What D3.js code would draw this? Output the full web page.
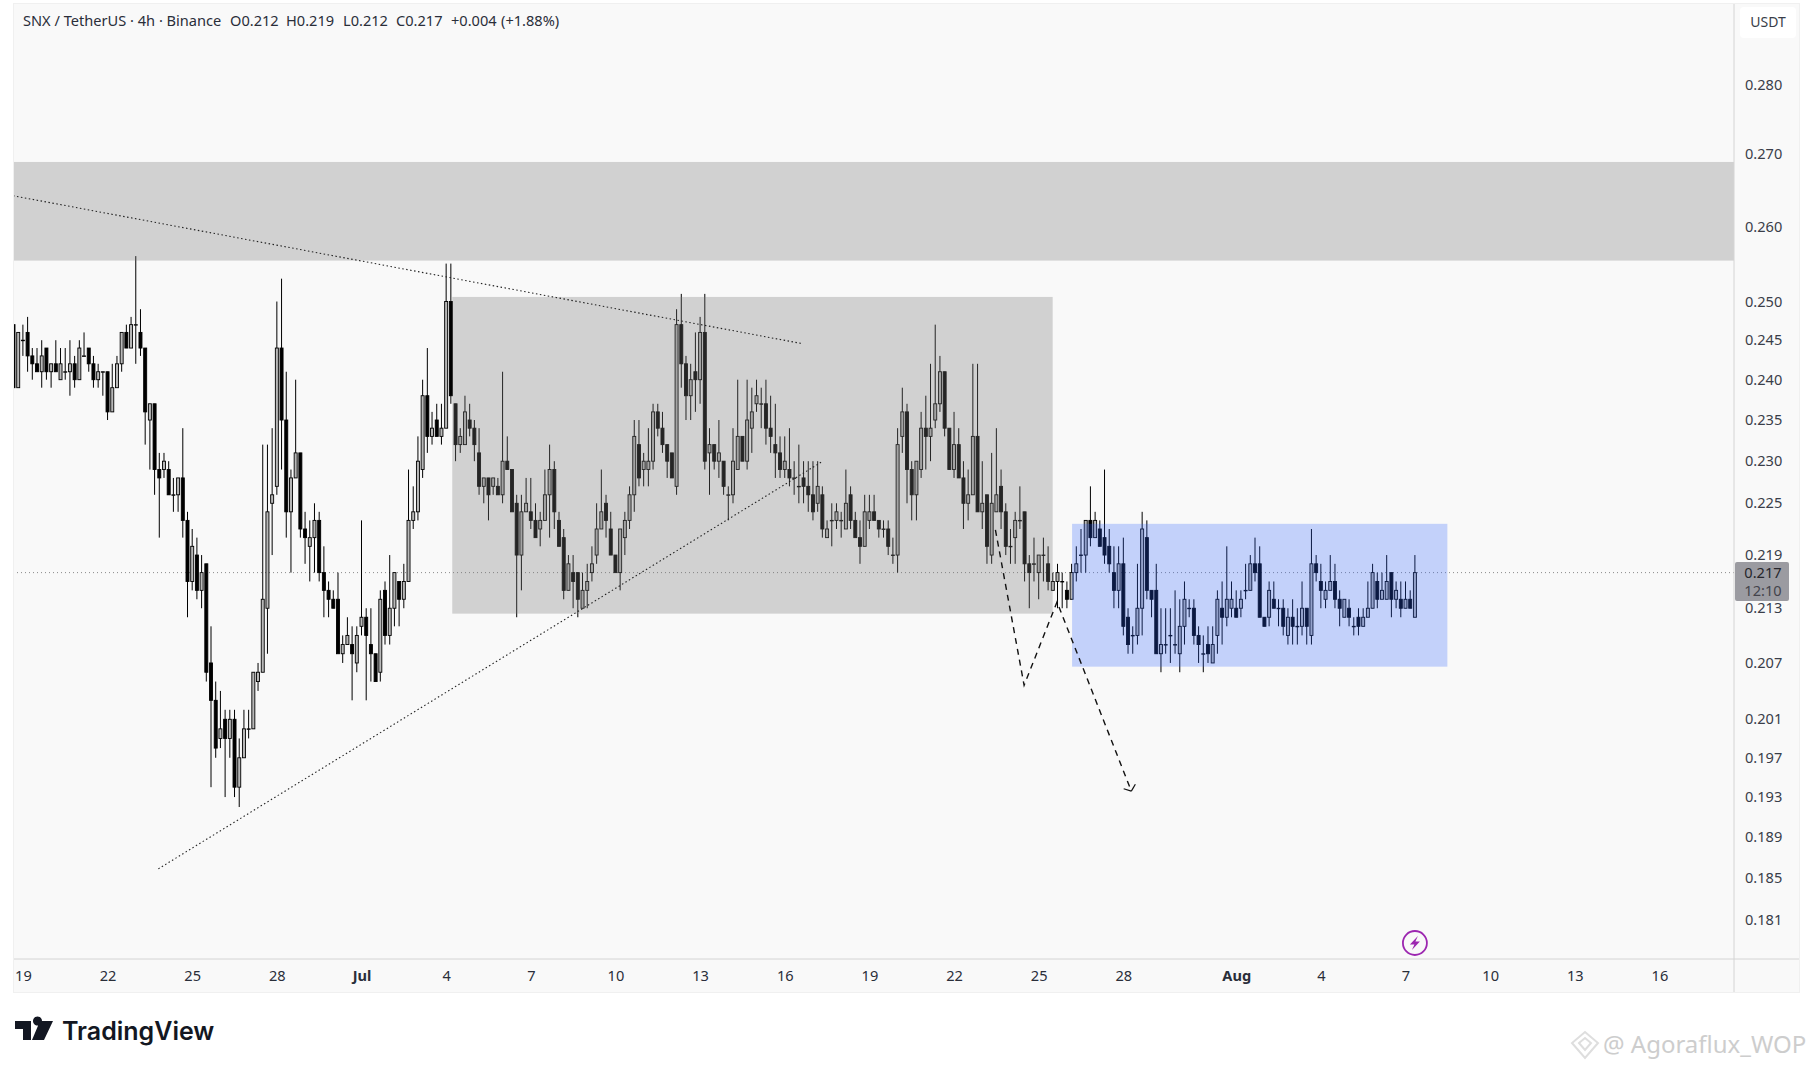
<!DOCTYPE html>
<html>
<head>
<meta charset="utf-8">
<title>SNX / TetherUS</title>
<script src="https://cdn.jsdelivr.net/npm/d3@7"></script>
<style>
html, body { margin: 0; background: #fff; }
svg { display: block; }
text { font-family: "Noto Sans", sans-serif; fill: #2a2e39; }
</style>
</head>
<body>
<div id="chart"></div>
<script>
// prices are in thousandths of USDT, one entry per 4h bar, ten bars per row
const opens = [
	247,239,245,246,243,242,241,244,241,242,
	240,241,241,242,240,243,244,242,240,241,
	241,236,239,242,246,244,247,246,244,235,
	237,229,229,229,226,226,228,223,216,219,
	215,218,207,203,199,201,199,201,194,197,
	200,200,205,206,213,225,227,244,235,224,
	228,231,222,220,221,223,217,215,214,214,
	208,209,209,207,211,212,209,208,206,215,
	210,213,216,214,216,223,224,229,238,233,
	235,233,234,250,237,232,232,235,234,231,
	227,228,227,227,226,230,229,225,219,224,
	224,223,222,223,226,229,223,221,215,217,
	217,213,215,217,219,222,225,222,219,217,
	221,223,226,232,229,229,230,236,234,232,
	231,227,247,242,238,241,240,246,231,232,
	230,230,226,226,229,233,230,234,237,237,
	237,234,232,231,229,229,228,227,228,227,
	226,225,226,221,223,223,223,222,226,223,
	221,220,223,224,223,222,222,219,219,233,
	236,229,226,229,234,233,235,237,241,234,
	229,232,228,225,226,233,224,226,219,224,
	227,224,220,221,223,224,218,218,217,219,
	218,215,216,216,215,214,217,219,219,223,
	221,222,221,220,217,215,218,212,210,210,
	213,221,215,215,208,209,210,209,208,211,
	213,213,210,208,209,207,210,213,212,213,
	213,213,215,215,218,218,212,212,214,213,
	213,210,212,211,211,213,210,218,216,214,
	215,216,214,212,213,211,212,211,212,213,
	216,214,214,217,214,214,213,214,212
];
const highs = [
	249,246,247,248,244,244,245,244,242,245,
	244,244,245,243,245,246,244,243,242,241,
	241,242,243,246,247,248,256,249,244,237,
	237,231,231,230,228,228,234,224,222,221,
	219,218,211,205,204,202,202,202,199,202,
	202,206,207,232,232,234,250,253,241,229,
	240,231,224,223,225,224,220,216,215,217,
	210,212,211,211,223,213,213,208,215,216,
	219,217,216,218,229,227,233,240,244,236,
	237,237,255,255,237,234,238,237,235,234,
	228,228,228,228,241,233,229,226,226,228,
	228,225,224,229,232,230,224,222,219,219,
	217,217,218,220,225,229,226,224,219,222,
	224,227,235,235,231,234,237,237,236,232,
	231,249,251,243,242,246,248,251,234,232,
	235,230,227,234,240,233,240,239,240,239,
	240,238,237,233,233,234,230,232,230,230,
	230,230,227,223,225,225,224,229,227,224,
	223,226,226,226,223,223,223,221,234,239,
	237,230,230,236,238,242,247,243,241,234,
	236,234,230,229,242,242,230,226,231,234,
	229,225,222,224,227,224,219,221,219,221,
	220,217,218,217,216,218,220,222,223,227,
	224,223,229,222,220,220,221,213,211,218,
	224,223,215,218,213,213,213,215,214,216,
	214,214,211,210,211,211,215,216,220,216,
	215,215,218,219,221,220,212,216,216,214,
	214,213,214,213,216,213,222,219,218,216,
	219,218,215,214,214,212,213,213,216,218,
	217,217,219,217,216,216,216,215,219
];
const lows = [
	239,239,243,241,240,241,239,240,239,241,
	240,240,238,239,240,243,241,239,239,238,
	235,236,239,241,244,244,242,243,232,229,
	226,221,228,226,224,224,221,212,215,214,
	213,205,194,197,198,193,197,193,192,197,
	199,200,204,206,208,219,226,229,221,217,
	228,221,218,216,217,216,212,212,213,208,
	207,209,203,206,210,203,205,205,205,209,
	209,211,211,213,216,222,223,228,231,232,
	233,232,234,237,230,231,232,233,230,226,
	225,223,226,226,225,229,224,212,215,224,
	222,221,220,223,221,222,220,214,215,213,
	212,213,213,216,218,222,221,219,217,215,
	219,222,224,227,227,227,229,233,231,228,
	228,226,239,235,235,236,237,229,226,229,
	228,226,223,225,229,230,229,231,236,234,
	232,231,228,228,228,227,226,225,225,224,
	223,224,221,221,220,222,221,222,222,221,
	218,220,222,223,221,221,219,218,217,231,
	225,223,223,228,229,230,234,236,233,229,
	228,228,222,223,226,224,222,218,218,224,
	222,219,218,218,222,216,213,216,214,216,
	215,215,213,213,213,214,216,217,217,220,
	221,220,218,217,213,213,210,208,208,209,
	210,214,212,208,206,208,207,208,206,209,
	212,209,207,206,207,207,208,209,211,212,
	212,212,214,215,216,212,211,211,213,211,
	210,209,209,209,210,209,209,216,213,213,
	215,213,211,212,211,210,210,211,212,213,
	213,214,214,212,213,212,213,213,212
];
const closes = [
	239,246,245,243,242,241,243,241,242,241,
	242,241,242,240,244,243,242,240,241,241,
	236,239,242,246,244,247,247,244,236,237,
	229,228,230,226,226,228,223,216,220,215,
	217,206,203,198,200,199,201,194,197,200,
	200,206,206,214,224,226,244,235,224,228,
	231,222,221,221,223,217,215,214,213,208,
	209,210,208,210,212,210,208,205,214,210,
	213,217,214,216,223,224,230,238,233,234,
	233,234,250,238,232,233,236,234,232,227,
	228,226,228,226,230,229,224,219,224,225,
	223,221,223,226,229,224,220,215,218,216,
	214,215,216,218,222,224,223,219,217,222,
	223,226,233,228,230,230,236,234,232,230,
	228,247,242,238,240,240,246,230,232,230,
	231,227,226,230,233,230,235,236,238,237,
	234,233,231,229,230,228,228,227,227,226,
	224,227,222,222,223,224,223,225,223,221,
	220,224,224,223,222,222,220,219,232,236,
	229,226,230,234,233,234,237,241,234,229,
	232,228,225,226,233,224,225,220,225,226,
	224,220,220,223,223,218,217,218,219,219,
	216,216,217,216,214,217,218,219,223,221,
	223,220,219,218,215,218,211,209,210,213,
	222,215,214,208,209,209,210,209,211,214,
	213,210,209,208,208,209,214,212,214,214,
	212,214,215,218,217,212,211,215,213,213,
	211,212,211,211,213,211,218,217,215,215,
	216,214,213,214,212,211,211,212,213,217,
	214,215,216,214,215,213,214,213,217
];

const firstBar = Date.UTC(2024, 5, 18, 16);
const BAR_MS = 4 * 3600 * 1000;

const priceTicks = [0.280,0.270,0.260,0.250,0.245,0.240,0.235,0.230,0.225,0.219,0.213,0.207,0.201,0.197,0.193,0.189,0.185,0.181];
const dateTicks = ["06-19","06-22","06-25","06-28","07-01","07-04","07-07","07-10","07-13","07-16","07-19","07-22","07-25","07-28","08-01","08-04","08-07","08-10","08-13","08-16"];
const monthNames = {"07-01": "Jul", "08-01": "Aug"};

// drawings: prices are in USDT, positions on the time axis in bars from the first one
const bandZone = { from: 0.2689, to: 0.2554 };
const rangeZone = { barFrom: 93.3, barTo: 220.97, from: 0.2506, to: 0.2124 };
const blueZone = { barFrom: 225.1, barTo: 304.9, from: 0.2226, to: 0.2066 };
const fallingLine = [[-0.1, 0.2642], [167.4, 0.2446]];
const risingLine = [[30.8, 0.1859], [171.8, 0.2299]];
const projection = [[208.8, 0.2219], [214.9, 0.2046], [221.9, 0.2137], [237.7, 0.1936]];

const headerParts = [
	["SNX / TetherUS · 4h · Binance", 23],
	["O0.212", 230], ["H0.219", 286], ["L0.212", 343], ["C0.217", 396],
	["+0.004", 451], ["(+1.88%)", 501]
];
const lastPrice = 0.217;
const countdown = "12:10";
const quoteCurrency = "USDT";

const WIDTH = 1814;
const HEIGHT = 1069;
const PANE = { left: 13, top: 3, right: 1734, bottom: 959, axisRight: 1800, axisBottom: 993 };
const BODY_WIDTH = 3;

const parseTick = d3.utcParse("%Y-%m-%d");

const x = d3.scaleUtc()
	.domain([parseTick("2024-07-01"), parseTick("2024-08-07")])
	.range([361.5, 1405.5]);

const y = d3.scaleLog()
	.domain([0.181, 0.280])
	.range([920, 84.5]);

const barX = (i) => x(new Date(firstBar + i * BAR_MS));
const lineGen = d3.line().x((d) => barX(d[0])).y((d) => y(d[1]));

const svg = d3.select("#chart").append("svg")
	.attr("width", WIDTH)
	.attr("height", HEIGHT);

svg.append("rect")
	.attr("x", PANE.left)
	.attr("y", PANE.top)
	.attr("width", PANE.axisRight - PANE.left)
	.attr("height", PANE.axisBottom - PANE.top)
	.attr("fill", "#f9f9f9");

svg.append("defs").append("clipPath").attr("id", "pane")
	.append("rect")
	.attr("x", PANE.left)
	.attr("y", PANE.top)
	.attr("width", PANE.right - PANE.left)
	.attr("height", PANE.bottom - PANE.top);

const plot = svg.append("g").attr("clip-path", "url(#pane)");

// last price line goes under the candles
plot.append("line")
	.attr("x1", PANE.left)
	.attr("x2", PANE.right)
	.attr("y1", y(lastPrice))
	.attr("y2", y(lastPrice))
	.attr("stroke", "#8a8a8a")
	.attr("stroke-width", 1)
	.attr("stroke-dasharray", "1 3");

const candles = plot.append("g").selectAll("g")
	.data(d3.range(opens.length))
	.enter()
	.append("g");

candles.append("line")
	.attr("x1", (i) => barX(i))
	.attr("x2", (i) => barX(i))
	.attr("y1", (i) => y(highs[i] / 1000))
	.attr("y2", (i) => y(lows[i] / 1000))
	.attr("stroke", "#000")
	.attr("stroke-width", 1);

candles.append("rect")
	.attr("x", (i) => barX(i) - BODY_WIDTH / 2)
	.attr("width", BODY_WIDTH)
	.attr("y", (i) => y(Math.max(opens[i], closes[i]) / 1000))
	.attr("height", (i) => Math.max(0.5, Math.abs(y(opens[i] / 1000) - y(closes[i] / 1000))))
	.attr("fill", (i) => closes[i] >= opens[i] ? "#b8b8b8" : "#000")
	.attr("stroke", "#000")
	.attr("stroke-width", 0.9);

// zones sit on top of the candles, as drawings do
plot.append("rect")
	.attr("x", PANE.left)
	.attr("width", PANE.right - PANE.left)
	.attr("y", y(bandZone.from))
	.attr("height", y(bandZone.to) - y(bandZone.from))
	.attr("fill", "rgba(120,120,120,0.31)");

[[rangeZone, "rgba(120,120,120,0.31)"], [blueZone, "rgba(41,98,255,0.26)"]].forEach(([zone, color]) => {
	plot.append("rect")
		.attr("x", barX(zone.barFrom))
		.attr("width", barX(zone.barTo) - barX(zone.barFrom))
		.attr("y", y(zone.from))
		.attr("height", y(zone.to) - y(zone.from))
		.attr("fill", color);
});

[fallingLine, risingLine].forEach((pts) => {
	plot.append("path")
		.attr("d", lineGen(pts))
		.attr("fill", "none")
		.attr("stroke", "#222")
		.attr("stroke-width", 1.1)
		.attr("stroke-dasharray", "1.5 2.5");
});

plot.append("path")
	.attr("d", lineGen(projection))
	.attr("fill", "none")
	.attr("stroke", "#111")
	.attr("stroke-width", 1.4)
	.attr("stroke-dasharray", "6 5");

// small open arrow head at the end of the projection
const tip = projection[projection.length - 1];
const prev = projection[projection.length - 2];
const angle = Math.atan2(y(tip[1]) - y(prev[1]), barX(tip[0]) - barX(prev[0]));
const HEAD = 8;
[-0.9, 0.9].forEach((a) => {
	plot.append("line")
		.attr("x1", barX(tip[0]))
		.attr("y1", y(tip[1]))
		.attr("x2", barX(tip[0]) - HEAD * Math.cos(angle + a))
		.attr("y2", y(tip[1]) - HEAD * Math.sin(angle + a))
		.attr("stroke", "#111")
		.attr("stroke-width", 1.2);
});

// axes
const axisRight = d3.axisRight(y)
	.tickValues(priceTicks)
	.tickSize(0)
	.tickPadding(11)
	.tickFormat(d3.format(".3f"));

const gY = svg.append("g")
	.attr("transform", `translate(${PANE.right},0)`)
	.call(axisRight);
gY.select(".domain").remove();
gY.selectAll("text")
	.attr("font-size", 14.6)
	.style("font-family", "'Noto Sans', sans-serif")
	.style("fill", "#3a3e49");

const axisBottom = d3.axisBottom(x)
	.tickValues(dateTicks.map((d) => parseTick("2024-" + d)))
	.tickSize(0)
	.tickPadding(12)
	.tickFormat((d) => monthNames[d3.utcFormat("%m-%d")(d)] || d3.utcFormat("%-d")(d));

const gX = svg.append("g")
	.attr("transform", `translate(0,${PANE.bottom})`)
	.call(axisBottom);
gX.select(".domain").remove();
gX.selectAll("text")
	.attr("font-size", 14.6)
	.style("font-family", "'Noto Sans', sans-serif")
	.style("font-weight", (d) => monthNames[d3.utcFormat("%m-%d")(d)] ? 700 : 400)
	.style("fill", "#2a2e39");

// pane frame
[
	[PANE.right, PANE.top, PANE.right, PANE.axisBottom],
	[PANE.left, PANE.bottom, PANE.axisRight, PANE.bottom]
].forEach((l) => {
	svg.append("line")
		.attr("x1", l[0]).attr("y1", l[1]).attr("x2", l[2]).attr("y2", l[3])
		.attr("stroke", "#d4d4d4");
});

svg.append("rect")
	.attr("x", PANE.left + 0.5)
	.attr("y", PANE.top + 0.5)
	.attr("width", PANE.axisRight - PANE.left - 1)
	.attr("height", PANE.axisBottom - PANE.top - 1)
	.attr("fill", "none")
	.attr("stroke", "#f0f0f0");

// last price tag
const tagY = y(lastPrice);
svg.append("rect")
	.attr("x", PANE.right + 1)
	.attr("y", tagY - 10.5)
	.attr("width", 54)
	.attr("height", 39)
	.attr("rx", 2)
	.attr("fill", "#9b9ba1");
svg.append("text")
	.attr("x", PANE.right + 29)
	.attr("y", tagY + 5)
	.attr("text-anchor", "middle")
	.attr("font-size", 14.6)
	.style("fill", "#26262c")
	.text(d3.format(".3f")(lastPrice));
svg.append("text")
	.attr("x", PANE.right + 29)
	.attr("y", tagY + 23)
	.attr("text-anchor", "middle")
	.attr("font-size", 14.6)
	.style("fill", "#44444c")
	.text(countdown);

// currency button
svg.append("rect")
	.attr("x", 1740)
	.attr("y", 7)
	.attr("width", 56)
	.attr("height", 31)
	.attr("rx", 4)
	.attr("fill", "#fff");
svg.append("text")
	.attr("x", 1768)
	.attr("y", 27)
	.attr("text-anchor", "middle")
	.attr("font-size", 14)
	.style("fill", "#3a3e49")
	.text(quoteCurrency);

// legend line
svg.append("g").selectAll("text")
	.data(headerParts)
	.enter()
	.append("text")
	.attr("x", (d) => d[1])
	.attr("y", 26)
	.attr("font-size", 14.6)
	.text((d) => d[0]);

// lightning marker on the time axis
const bolt = svg.append("g").attr("transform", `translate(${barX(opens.length - 1)},943)`);
bolt.append("circle")
	.attr("r", 12)
	.attr("fill", "none")
	.attr("stroke", "#9c27b0")
	.attr("stroke-width", 1.8);
bolt.append("path")
	.attr("d", "M3-7L-5 1.5H-.5L-3 7L5-1.5H.5Z")
	.attr("fill", "#9c27b0");

// TradingView mark
svg.append("path")
	.attr("transform", "translate(15,1021)")
	.attr("d", "M0 0H16V19H8V8H0Z M25 0L38 0L29 19H17Z M18 0A4.5 4.5 0 1 1 18 .01Z")
	.attr("fill", "#131722");
svg.append("text")
	.attr("x", 62)
	.attr("y", 1040)
	.attr("font-size", 25)
	.style("font-family", "Inter, sans-serif")
	.style("font-weight", 600)
	.style("fill", "#131722")
	.text("TradingView");

// watermark
svg.append("path")
	.attr("transform", "translate(1585,1045)")
	.attr("d", "M0-13L13-2L0 13L-13-2Z M-6-2L0-7L6-2L0 5Z")
	.attr("fill", "none")
	.attr("stroke", "#dedede")
	.attr("stroke-width", 2);
svg.append("text")
	.attr("x", 1603)
	.attr("y", 1053)
	.attr("font-size", 24)
	.style("fill", "#cdcdcd")
	.text("@ Agoraflux_WOP");
</script>
</body>
</html>
